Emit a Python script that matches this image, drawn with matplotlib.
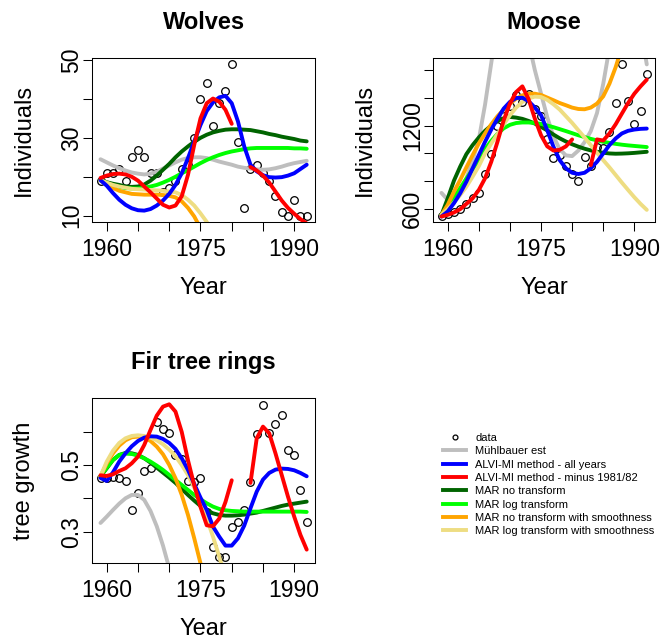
import matplotlib.pyplot as plt
import numpy as np
from matplotlib.lines import Line2D

plt.rcParams['font.family'] = ['Liberation Sans', 'DejaVu Sans']

nan = np.nan
years = np.arange(1959, 1993)

# observed counts / ring widths, 1959-1992
wolves = [19, 21, 21, 22, 19, 25, 27, 25, 21, 21, 16, 17, 19, 22, 23, 30, 40,
          44, 33, 39, 42, 49, 29, 12, 22, 23, 21, 19, 15, 11, 10, 14, 10, 10]
moose = [550, 562, 577, 596, 635, 675, 716, 851, 997, 1195, 1270, 1340, 1417,
         1369, 1430, 1322, 1270, 1100, 969, 987, 908, 848, 801, 970, 906, 1045,
         1040, 1150, 1362, 1645, 1378, 1208, 1304, 1574]
fir = [0.462, 0.460, 0.465, 0.462, 0.452, 0.365, 0.415, 0.482, 0.490, 0.628,
       0.608, 0.595, 0.530, 0.518, 0.452, 0.450, 0.460, 0.360, 0.255, 0.225,
       0.225, 0.315, 0.328, 0.365, 0.448, 0.592, 0.681, 0.596, 0.623, 0.650,
       0.544, 0.529, 0.426, 0.329]

# fitted trajectories - wolves
w_muhl = [24.5, 23.7, 22.9, 22.2, 21.6, 21.1, 20.8, 20.6, 20.8, 21.3, 22.1, 22.9,
          23.7, 24.4, 24.8, 25.0, 25.0, 24.8, 24.4, 23.9, 23.5, 23.1, 22.6, 22.3,
          22.1, 21.9, 21.8, 21.9, 22.2, 22.6, 23.1, 23.5, 23.8, 24.1]
w_alvi = [19.1, 17.7, 15.8, 14.1, 12.8, 11.9, 11.4, 11.3, 11.7, 12.6, 13.9, 15.6,
          17.9, 20.9, 24.8, 29.1, 33.3, 36.9, 39.1, 40.4, 40.8, 38.9, 34.2, 27.8,
          23.1, 21.4, 20.4, 19.9, 19.8, 19.9, 20.3, 20.9, 22.0, 23.1]
w_alvi_minus = [19.7, 20.3, 20.7, 20.8, 20.6, 20.0, 19.0, 17.5, 16.0, 14.4, 12.8,
                12.1, 12.6, 15.0, 20.5, 28.2, 35.0, 38.9, 40.1, 39.3, 37.2, 33.6,
                nan, nan, 22.5, 21.6, 20.3, 18.5, 16.2, 13.9, 12.0, 10.5, 9.1, 8.0]
w_mar = [19.1, 18.6, 18.2, 17.9, 17.5, 17.4, 17.5, 18.0, 19.0, 20.3, 21.8, 23.3,
         25.0, 26.5, 27.8, 29.0, 30.0, 30.8, 31.4, 31.8, 32.1, 32.2, 32.2, 32.1,
         32.0, 31.7, 31.4, 31.0, 30.7, 30.3, 30.0, 29.7, 29.3, 29.1]
w_marlog = [19.1, 18.4, 17.8, 17.4, 17.1, 17.0, 17.0, 17.2, 17.5, 17.9, 18.5, 19.2,
            20.0, 20.9, 21.7, 22.6, 23.5, 24.3, 25.0, 25.6, 26.1, 26.5, 26.8, 27.1,
            27.3, 27.4, 27.4, 27.4, 27.4, 27.4, 27.4, 27.3, 27.3, 27.2]
w_mar_sm = [19.1, 17.9, 17.1, 16.4, 16.0, 15.6, 15.5, 15.4, 15.4, 15.4, 15.3, 15.1,
            14.7, 13.7, 12.0, 9.8, 6.8, nan, nan, nan, nan, nan, nan, nan, nan,
            nan, nan, nan, nan, nan, nan, nan, nan, nan]
w_marlog_sm = [19.1, 18.5, 17.9, 17.5, 17.2, 16.9, 16.8, 16.7, 16.6, 16.5, 16.4,
               16.2, 16.0, 15.3, 14.1, 12.6, 10.6, 8.4, 5.5, nan, nan, nan, nan,
               nan, nan, nan, nan, nan, nan, nan, nan, nan, nan, nan]

# fitted trajectories - moose
m_muhl = [715, 665, 670, 720, 820, 950, 1100, 1350, 1650, 1950, 2200, 2300, 2250,
          2050, 1800, 1600, 1430, 1260, 1120, 1030, 985, 980, 1020, 1080, 1160,
          1290, 1500, 1760, 2050, 2200, 2300, 2250, 1900, 1640]
m_alvi = [545, 581, 641, 712, 796, 892, 987, 1083, 1171, 1250, 1322, 1370, 1398,
          1400, 1375, 1330, 1275, 1166, 1047, 951, 892, 860, 851, 860, 892, 939,
          999, 1059, 1107, 1143, 1162, 1171, 1176, 1178]
m_alvi_minus = [545, 557, 574, 598, 636, 676, 736, 820, 939, 1083, 1238, 1358,
                1441, 1482, 1390, 1250, 1130, 1050, 1020, 1025, 1050, 1100, nan,
                nan, 915, 1100, 1092, 1143, 1209, 1286, 1362, 1429, 1482, 1530]
m_mar = [557, 676, 803, 904, 994, 1059, 1114, 1162, 1200, 1233, 1252, 1262, 1257,
         1248, 1233, 1214, 1190, 1165, 1135, 1108, 1085, 1065, 1048, 1033, 1021,
         1011, 1004, 999, 997, 998, 1000, 1003, 1007, 1011]
m_marlog = [557, 618, 683, 750, 818, 885, 950, 1030, 1090, 1140, 1180, 1205, 1218,
            1222, 1222, 1218, 1212, 1200, 1188, 1174, 1160, 1145, 1130, 1117, 1104,
            1093, 1083, 1075, 1068, 1062, 1057, 1053, 1049, 1045]
m_mar_sm = [557, 629, 724, 808, 899, 987, 1071, 1143, 1209, 1267, 1315, 1358, 1393,
            1417, 1429, 1429, 1420, 1401, 1382, 1362, 1346, 1329, 1319, 1317, 1329,
            1358, 1410, 1501, 1620, 1764, nan, nan, nan, nan]
m_marlog_sm = [557, 598, 645, 700, 760, 832, 908, 999, 1071, 1138, 1209, 1274,
               1329, 1370, 1395, 1408, 1405, 1385, 1353, 1315, 1267, 1219, 1166,
               1114, 1059, 1004, 951, 899, 844, 789, 736, 684, 636, 593]

# fitted trajectories - fir tree rings
f_muhl = [0.326, 0.345, 0.365, 0.384, 0.400, 0.410, 0.410, 0.395, 0.362, 0.316,
          0.258, 0.190, nan, nan, nan, nan, nan, nan, nan, nan, nan, nan, nan,
          nan, nan, nan, nan, nan, nan, nan, nan, nan, nan, nan]
f_alvi = [0.461, 0.452, 0.478, 0.510, 0.535, 0.556, 0.572, 0.582, 0.586, 0.585,
          0.578, 0.566, 0.548, 0.520, 0.485, 0.443, 0.402, 0.365, 0.315, 0.285,
          0.258, 0.258, 0.280, 0.318, 0.370, 0.420, 0.456, 0.476, 0.486, 0.489,
          0.488, 0.484, 0.476, 0.466]
f_alvi_minus = [0.469, 0.467, 0.472, 0.482, 0.490, 0.505, 0.525, 0.560, 0.605,
                0.648, 0.675, 0.682, 0.660, 0.599, 0.514, 0.439, 0.374, 0.319,
                0.316, 0.339, 0.389, 0.454, nan, nan, 0.446, 0.580, 0.615, 0.595,
                0.535, 0.470, 0.405, 0.345, 0.290, 0.246]
f_mar = [0.466, 0.490, 0.515, 0.530, 0.536, 0.535, 0.530, 0.520, 0.507, 0.492,
         0.477, 0.462, 0.446, 0.428, 0.410, 0.393, 0.377, 0.364, 0.355, 0.350,
         0.348, 0.348, 0.349, 0.351, 0.354, 0.357, 0.362, 0.367, 0.372, 0.377,
         0.381, 0.384, 0.387, 0.390]
f_marlog = [0.466, 0.492, 0.515, 0.530, 0.534, 0.533, 0.528, 0.520, 0.510, 0.498,
            0.485, 0.470, 0.455, 0.440, 0.425, 0.410, 0.397, 0.385, 0.375, 0.368,
            0.364, 0.362, 0.361, 0.360, 0.360, 0.360, 0.360, 0.360, 0.360, 0.360,
            0.360, 0.360, 0.360, 0.359]
f_mar_sm = [0.466, 0.505, 0.535, 0.558, 0.574, 0.583, 0.585, 0.582, 0.572, 0.555,
            0.532, 0.500, 0.460, 0.410, 0.350, 0.280, 0.205, 0.120, nan, nan, nan,
            nan, nan, nan, nan, nan, nan, nan, nan, nan, nan, nan, nan, nan]
f_marlog_sm = [0.466, 0.510, 0.543, 0.566, 0.580, 0.587, 0.589, 0.587, 0.582,
               0.574, 0.562, 0.546, 0.526, 0.500, 0.470, 0.432, 0.390, 0.340,
               0.285, 0.225, 0.160, nan, nan, nan, nan, nan, nan, nan, nan, nan,
               nan, nan, nan, nan]

fit_labels = ['Mühlbauer est', 'ALVI-MI method - all years',
              'ALVI-MI method - minus 1981/82', 'MAR no transform',
              'MAR log transform', 'MAR no transform with smoothness',
              'MAR log transform with smoothness']
fit_colors = ['#BEBEBE', 'blue', 'red', '#006400', '#00FF00', '#FFA500', '#EEDD82']
# drawing order (index into fit lists): grey at the back, ALVI-MI on top
draw_order = [0, 3, 4, 5, 6, 1, 2]

x_ticks = [1960, 1965, 1970, 1975, 1980, 1985, 1990]
x_labels = ['1960', '', '', '1975', '', '', '1990']
LW = 2.8


def draw_panel(ax, obs, fits, title, ylabel, ylim, yticks, ylabels):
    """Scatter of observations with the model fits on top, base-R look."""
    ax.plot(years, obs, 'o', mfc='none', mec='black', ms=5.5, mew=0.9, zorder=1)
    for i in draw_order:
        ax.plot(years, fits[i], color=fit_colors[i], lw=LW,
                solid_capstyle='round', solid_joinstyle='round', zorder=2)
    ax.set_xlim(1957.68, 1993.32)
    ax.set_ylim(*ylim)
    ax.set_xticks(x_ticks)
    ax.set_xticklabels(x_labels)
    ax.set_yticks(yticks)
    ax.set_yticklabels(ylabels, rotation=90, va='center')
    ax.tick_params(length=6.5, width=0.75, labelsize=16.5, direction='out')
    ax.tick_params(axis='x', pad=5)
    ax.tick_params(axis='y', pad=0)
    for s in ax.spines.values():
        s.set_linewidth(0.75)
    ax.set_title(title, fontsize=17, fontweight='bold', pad=21)
    ax.set_xlabel('Year', fontsize=17, labelpad=11.5)
    ax.set_ylabel(ylabel, fontsize=17, labelpad=18)


fig = plt.figure(figsize=(6.6, 6.39), dpi=100)

ax_w = fig.add_axes([0.1398, 0.6531, 0.3374, 0.2554])
draw_panel(ax_w, wolves,
           [w_muhl, w_alvi, w_alvi_minus, w_mar, w_marlog, w_mar_sm, w_marlog_sm],
           'Wolves', 'Individuals', (8.46, 50.4),
           [10, 20, 30, 40, 50], ['10', '', '30', '', '50'])

ax_m = fig.add_axes([0.6565, 0.6531, 0.3359, 0.2557])
draw_panel(ax_m, moose,
           [m_muhl, m_alvi, m_alvi_minus, m_mar, m_marlog, m_mar_sm, m_marlog_sm],
           'Moose', 'Individuals', (508, 1684),
           [600, 800, 1000, 1200, 1400, 1600], ['600', '', '', '1200', '', ''])

ax_f = fig.add_axes([0.1398, 0.1185, 0.3374, 0.2582])
draw_panel(ax_f, fir,
           [f_muhl, f_alvi, f_alvi_minus, f_mar, f_marlog, f_mar_sm, f_marlog_sm],
           'Fir tree rings', 'tree growth', (0.205, 0.700),
           [0.3, 0.4, 0.5, 0.6], ['0.3', '', '0.5', ''])

handles = [Line2D([], [], ls='none', marker='o', mfc='none', mec='black',
                  ms=3.5, mew=0.9)]
handles += [Line2D([], [], color=c, lw=LW) for c in fit_colors]
fig.legend(handles, ['data'] + fit_labels, loc='upper left',
           bbox_to_anchor=(443 / 660, 1 - 433 / 639), frameon=False,
           fontsize=8, handlelength=2.1, handletextpad=0.8, labelspacing=0.3,
           borderpad=0, borderaxespad=0)

fig.savefig('out.png', dpi=100)
